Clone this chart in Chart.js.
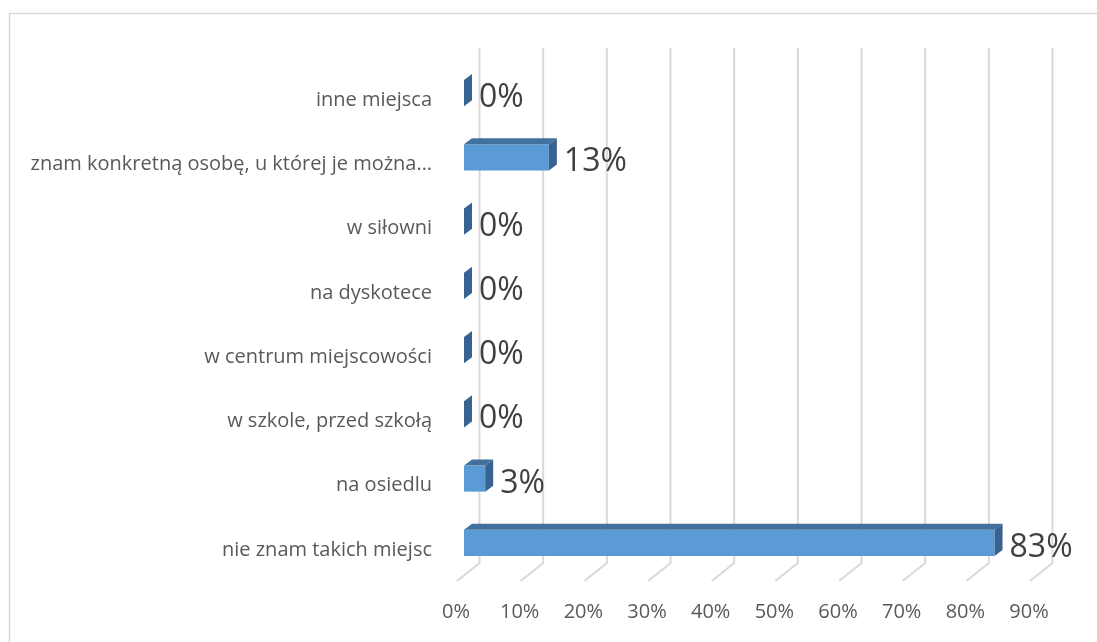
<!DOCTYPE html>
<html>
<head>
<meta charset="utf-8">
<script src="https://cdn.jsdelivr.net/npm/chart.js@4/dist/chart.umd.min.js"></script>
<style>
html,body{margin:0;padding:0;background:#fff;}
#wrap{width:1097px;height:642px;position:relative;}
</style>
</head>
<body>
<div id="wrap"><canvas id="c"></canvas></div>
<script>
const categories = [
  "inne miejsca",
  "znam konkretną osobę, u której je można…",
  "w siłowni",
  "na dyskotece",
  "w centrum miejscowości",
  "w szkole, przed szkołą",
  "na osiedlu",
  "nie znam takich miejsc"
];
const values = [0, 0.1333, 0, 0, 0, 0, 0.0333, 0.8333];
const valueLabels = ["0%", "13%", "0%", "0%", "0%", "0%", "3%", "83%"];
const tickMin = 0, tickMax = 0.9, tickStep = 0.1;

const FONT = "'Open Sans', Lato, sans-serif";
const DX = 8, DY = 6;

const threeD = {
  id: 'threeD',
  beforeDraw(chart) {
    const ctx = chart.ctx;
    ctx.save();
    ctx.fillStyle = '#ffffff';
    ctx.fillRect(0, 0, chart.width, chart.height);
    ctx.strokeStyle = '#d9d9d9';
    ctx.lineWidth = 1.5;
    ctx.strokeRect(9.5, 13.5, chart.width + 20, chart.height + 20);
    ctx.restore();
  },
  beforeDatasetsDraw(chart) {
    const ctx = chart.ctx;
    const xs = chart.scales.x;
    ctx.save();
    ctx.strokeStyle = '#d9d9d9';
    ctx.lineWidth = 2;
    xs.ticks.forEach(t => {
      const px = xs.getPixelForValue(t.value);
      const back = px + 15.5;
      ctx.beginPath();
      ctx.moveTo(back, 48);
      ctx.lineTo(back, 563);
      ctx.lineTo(px - 7, 581);
      ctx.stroke();
    });
    ctx.restore();
  },
  afterDatasetsDraw(chart) {
    const ctx = chart.ctx;
    const meta = chart.getDatasetMeta(0);
    ctx.save();
    meta.data.forEach((el, i) => {
      const p = el.getProps(['x', 'y', 'base', 'height'], true);
      const x0 = p.base, x1 = p.x;
      const yt = p.y - p.height / 2, yb = p.y + p.height / 2;
      if (x1 - x0 > 0.5) {
        ctx.fillStyle = '#41719c';
        ctx.beginPath();
        ctx.moveTo(x0, yt);
        ctx.lineTo(x0 + DX, yt - DY);
        ctx.lineTo(x1 + DX, yt - DY);
        ctx.lineTo(x1, yt);
        ctx.closePath();
        ctx.fill();
      }
      ctx.fillStyle = '#386390';
      ctx.beginPath();
      ctx.moveTo(x1, yt);
      ctx.lineTo(x1 + DX, yt - DY);
      ctx.lineTo(x1 + DX, yb - DY);
      ctx.lineTo(x1, yb);
      ctx.closePath();
      ctx.fill();
      ctx.fillStyle = '#404040';
      ctx.font = '32px ' + FONT;
      ctx.textAlign = 'left';
      ctx.textBaseline = 'alphabetic';
      ctx.fillText(valueLabels[i], x1 + DX + 7, p.y + 14);
    });
    ctx.restore();
  }
};

new Chart(document.getElementById('c'), {
  type: 'bar',
  data: {
    labels: categories,
    datasets: [{
      data: values,
      backgroundColor: '#5b9bd5',
      borderWidth: 0,
      barPercentage: 0.405,
      categoryPercentage: 1
    }]
  },
  plugins: [threeD],
  options: {
    indexAxis: 'y',
    responsive: true,
    maintainAspectRatio: false,
    animation: false,
    layout: { padding: { top: 61, right: 60, left: 0, bottom: 0 } },
    plugins: { legend: { display: false }, tooltip: { enabled: false } },
    scales: {
      x: {
        min: tickMin, max: tickMax,
        grid: { display: false, drawTicks: false },
        border: { display: false },
        ticks: {
          stepSize: tickStep,
          padding: 25,
          labelOffset: -8,
          color: '#595959',
          font: { family: FONT, size: 20 },
          maxRotation: 0,
          callback: v => Math.round(v * 100) + '%'
        },
        afterFit(s) { s.height = 67; }
      },
      y: {
        grid: { display: false, drawTicks: false },
        border: { display: false },
        ticks: {
          padding: 32,
          labelOffset: 7,
          color: '#595959',
          font: { family: FONT, size: 20 },
          autoSkip: false
        },
        afterFit(s) { s.width = 464; }
      }
    }
  }
});
</script>
</body>
</html>
